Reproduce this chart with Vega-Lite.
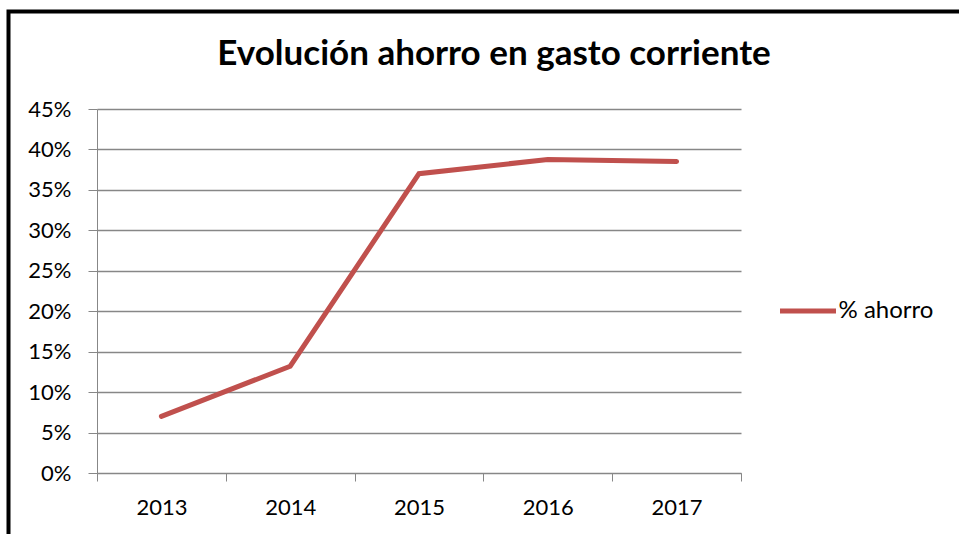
{
  "$schema": "https://vega.github.io/schema/vega-lite/v6.json",
  "autosize": "none",
  "width": 644,
  "height": 364,
  "padding": {"left": 97, "top": 109, "right": 218, "bottom": 61},
  "background": "white",
  "title": {
    "text": "Evolución ahorro en gasto corriente",
    "font": "Lato",
    "fontSize": 35,
    "fontWeight": "bold",
    "color": "black",
    "anchor": "middle",
    "frame": "group",
    "baseline": "alphabetic",
    "dx": 75,
    "offset": -90.5
  },
  "data": {
    "values": [
      {"year": "2013", "value": 0.070, "series": "% ahorro"},
      {"year": "2014", "value": 0.132, "series": "% ahorro"},
      {"year": "2015", "value": 0.370, "series": "% ahorro"},
      {"year": "2016", "value": 0.3876, "series": "% ahorro"},
      {"year": "2017", "value": 0.385, "series": "% ahorro"}
    ]
  },
  "mark": {"type": "line", "strokeWidth": 5, "strokeCap": "round", "strokeJoin": "miter"},
  "encoding": {
    "x": {
      "field": "year",
      "type": "ordinal",
      "scale": {"paddingInner": 0, "paddingOuter": 0},
      "axis": {
        "title": null,
        "labelAngle": 0,
        "tickBand": "extent",
        "tickSize": 8,
        "tickColor": "#878787",
        "domainColor": "#878787",
        "labelPadding": 16,
        "labelFont": "Lato",
        "labelFontSize": 22,
        "labelColor": "black",
        "grid": false
      }
    },
    "y": {
      "field": "value",
      "type": "quantitative",
      "scale": {"domain": [0, 0.45], "nice": false},
      "axis": {
        "title": null,
        "format": ".0%",
        "values": [0, 0.05, 0.1, 0.15, 0.2, 0.25, 0.3, 0.35, 0.4, 0.45],
        "grid": true,
        "gridColor": "#878787",
        "gridWidth": 1.3,
        "tickSize": 9,
        "tickColor": "#878787",
        "domainColor": "#878787",
        "labelPadding": 17,
        "labelFont": "Lato",
        "labelFontSize": 22,
        "labelColor": "black"
      }
    },
    "color": {
      "field": "series",
      "type": "nominal",
      "scale": {"range": ["#C0504D"]},
      "legend": {
        "title": null,
        "orient": "none",
        "legendX": -88.5,
        "legendY": -97.5,
        "padding": 269,
        "symbolOffset": 500,
        "strokeColor": "black",
        "symbolType": "stroke",
        "symbolSize": 3136,
        "symbolStrokeWidth": 5,
        "labelFont": "Lato",
        "labelFontSize": 24,
        "labelColor": "black",
        "labelOffset": 0,
        "labelLimit": 1000,
        "encode": {"legend": {"update": {"strokeWidth": {"value": 4}, "width": {"value": 1400}}}}
      }
    }
  },
  "config": {"view": {"stroke": null}}
}
